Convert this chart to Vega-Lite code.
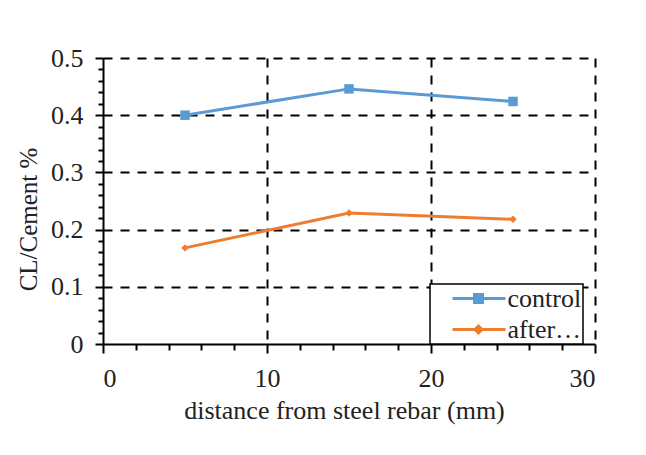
{
  "$schema": "https://vega.github.io/schema/vega-lite/v6.json",
  "width": 492,
  "height": 286,
  "autosize": "none",
  "padding": {"left": 103, "top": 58, "right": 51, "bottom": 111},
  "background": "white",
  "config": {
    "font": "Liberation Serif, Times New Roman, serif",
    "view": {"stroke": null},
    "axis": {
      "labelFont": "Liberation Serif, Times New Roman, serif",
      "titleFont": "Liberation Serif, Times New Roman, serif",
      "labelFontSize": 26,
      "titleFontSize": 26,
      "labelColor": "#222",
      "titleColor": "#222",
      "titleFontWeight": "normal",
      "domainColor": "black",
      "domainWidth": 2,
      "tickColor": "black",
      "tickWidth": 2,
      "gridColor": "black",
      "gridWidth": 2,
      "gridDash": [9, 8]
    },
    "legend": {
      "labelFont": "Liberation Serif, Times New Roman, serif",
      "labelFontSize": 26,
      "labelColor": "#222"
    }
  },
  "data": {
    "values": [
      {"d": 5, "v": 0.400, "series": "control"},
      {"d": 15, "v": 0.446, "series": "control"},
      {"d": 25, "v": 0.424, "series": "control"},
      {"d": 5, "v": 0.168, "series": "after…"},
      {"d": 15, "v": 0.229, "series": "after…"},
      {"d": 25, "v": 0.218, "series": "after…"}
    ]
  },
  "encoding": {
    "x": {
      "field": "d", "type": "quantitative",
      "scale": {"domain": [0, 30], "nice": false},
      "axis": {
        "values": [0, 2, 4, 6, 8, 10, 12, 14, 16, 18, 20, 22, 24, 26, 28, 30],
        "labelExpr": "datum.value % 10 === 0 ? datum.label : ''",
        "grid": true,
        "gridOpacity": {"condition": {"test": "datum.value % 10 === 0 && datum.value > 0", "value": 1}, "value": 0},
        "tickSize": {"condition": {"test": "datum.value % 10 === 0", "value": 9}, "value": 6},
        "labelPadding": 12,
        "title": "distance from steel rebar (mm)",
        "titleX": 241,
        "titleY": 66,
        "titleBaseline": "middle",
        "titleAlign": "center"
      }
    },
    "y": {
      "field": "v", "type": "quantitative",
      "scale": {"domain": [0, 0.5], "nice": false},
      "axis": {
        "values": [0, 0.02, 0.04, 0.06, 0.08, 0.1, 0.12, 0.14, 0.16, 0.18, 0.2, 0.22, 0.24, 0.26, 0.28, 0.3, 0.32, 0.34, 0.36, 0.38, 0.4, 0.42, 0.44, 0.46, 0.48, 0.5],
        "labelExpr": "abs(datum.value * 10 - round(datum.value * 10)) < 0.001 ? (datum.value === 0 ? '0' : format(datum.value, '.1f')) : ''",
        "grid": true,
        "gridOpacity": {"condition": {"test": "abs(datum.value * 10 - round(datum.value * 10)) < 0.001 && datum.value > 0", "value": 1}, "value": 0},
        "tickSize": {"condition": {"test": "abs(datum.value * 10 - round(datum.value * 10)) < 0.001", "value": 8}, "value": 5},
        "labelPadding": 12,
        "title": "CL/Cement %",
        "titleFontSize": 25,
        "titleAngle": -90,
        "titleX": -75,
        "titleY": 161,
        "titleBaseline": "middle",
        "titleAlign": "center"
      }
    },
    "color": {
      "field": "series",
      "type": "nominal",
      "scale": {"domain": ["control", "after…"], "range": ["#5B9BD5", "#ED7D31"]},
      "legend": {
        "title": null,
        "orient": "none",
        "legendX": 327,
        "legendY": 226,
        "fillColor": "white",
        "strokeColor": "black",
        "padding": 1.5,
        "symbolSize": 400,
        "symbolStrokeWidth": 3,
        "symbolType": "M0.8,0H6.1",
        "labelOffset": 50,
        "rowPadding": 5,
        "labelExpr": "datum.label + '\u2002\u2009\u2009'",
        "encode": {
          "legend": {
            "update": {"strokeWidth": {"value": 1.5}}
          },
          "symbols": {
            "update": {
              "shape": {"signal": "datum.value === 'control' ? 'M0.8,0H6.1M3,-0.4H3.8V0.4H3Z' : 'M0.8,0H6.1M3.4,-0.35L3.75,0L3.4,0.35L3.05,0Z'"},
              "fill": {"signal": "datum.value === 'control' ? '#5B9BD5' : '#ED7D31'"},
              "stroke": {"signal": "datum.value === 'control' ? '#5B9BD5' : '#ED7D31'"},
              "strokeWidth": {"value": 3},
              "opacity": {"value": 1}
            }
          }
        }
      }
    }
  },
  "layer": [
    {
      "mark": {"type": "line", "strokeWidth": 3}
    },
    {
      "transform": [{"filter": "datum.series === 'control'"}],
      "mark": {"type": "point", "filled": true, "opacity": 1, "shape": "square", "size": 90}
    },
    {
      "transform": [{"filter": "datum.series !== 'control'"}],
      "mark": {"type": "point", "filled": true, "opacity": 1, "shape": "diamond", "size": 55}
    }
  ]
}
